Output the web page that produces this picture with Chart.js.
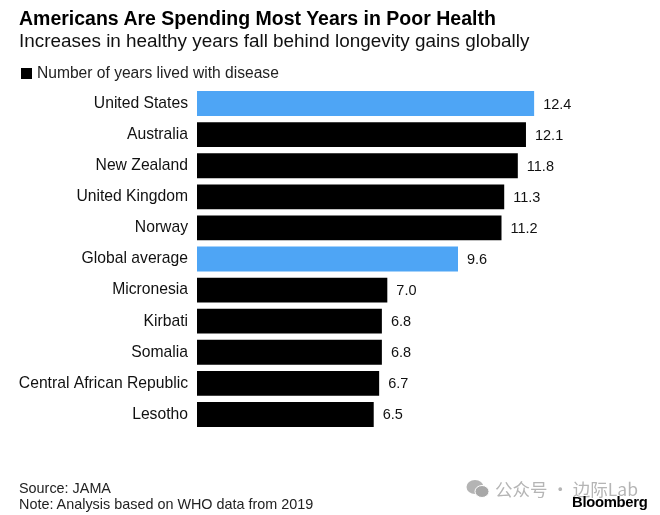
<!DOCTYPE html>
<html><head><meta charset="utf-8">
<script src="https://cdn.jsdelivr.net/npm/chart.js@4"></script>
<style>
html,body{margin:0;padding:0;background:#fff;width:660px;height:515px;overflow:hidden}
#wrap{position:relative;width:660px;height:515px;font-family:"Liberation Sans",Arial,sans-serif;color:#111}
canvas{position:absolute;left:0;top:0}
.t{position:absolute;white-space:nowrap}
</style></head><body>
<div id="wrap">
<canvas id="c" width="660" height="515"></canvas>
<div class="t" style="left:19px;top:7px;font-size:19.5px;font-weight:700;color:#000">Americans Are Spending Most Years in Poor Health</div>
<div class="t" style="left:19px;top:30px;font-size:18.9px;color:#111">Increases in healthy years fall behind longevity gains globally</div>
<div class="t" style="left:21px;top:68px;width:11px;height:11px;background:#000"></div>
<div class="t" style="left:37px;top:64px;font-size:15.6px;color:#222">Number of years lived with disease</div>
<div class="t" style="left:19px;top:480px;font-size:14.4px;color:#222">Source: JAMA</div>
<div class="t" style="left:19px;top:496px;font-size:14.4px;color:#222">Note: Analysis based on WHO data from 2019</div>
<svg class="t" style="left:466px;top:479px" width="24" height="20"><ellipse cx="9" cy="8" rx="8.5" ry="7" fill="#b4b4b4"/><ellipse cx="16" cy="12.5" rx="7" ry="6" fill="#a8a8a8" stroke="#fff"/></svg>
<div class="t" style="left:495px;top:476px;font-size:17.5px;color:#b5b5b5;font-family:'Noto Sans CJK SC','Liberation Sans',sans-serif">公众号 · 边际Lab</div>
<div class="t" style="left:572px;top:494px;font-size:14.8px;font-weight:700;color:#000;letter-spacing:-.3px">Bloomberg</div>
</div>
<script>
const categories=["United States","Australia","New Zealand","United Kingdom","Norway","Global average","Micronesia","Kirbati","Somalia","Central African Republic","Lesotho"];
const yearsWithDisease=[12.4,12.1,11.8,11.3,11.2,9.6,7.0,6.8,6.8,6.7,6.5];
const highlighted=["United States","Global average"];
const BLUE="#4ea5f5",BLACK="#000";
const valueLabels={id:"valueLabels",afterDatasetsDraw(chart){
  const {ctx}=chart,meta=chart.getDatasetMeta(0);
  ctx.save();ctx.font='14.5px "Liberation Sans",Arial,sans-serif';ctx.fillStyle="#111";
  ctx.textAlign="left";ctx.textBaseline="middle";
  meta.data.forEach((b,i)=>ctx.fillText(yearsWithDisease[i].toFixed(1),b.x+9,b.y+1));
  ctx.restore();
}};
new Chart(document.getElementById("c"),{
  type:"bar",
  data:{labels:categories,datasets:[{data:yearsWithDisease,
    backgroundColor:categories.map(c=>highlighted.includes(c)?BLUE:BLACK),
    barPercentage:.8,categoryPercentage:1,borderWidth:0}]},
  options:{indexAxis:"y",responsive:false,animation:false,
    layout:{padding:{top:88,bottom:85,left:0,right:28}},
    plugins:{legend:{display:false},title:{display:false},tooltip:{enabled:false}},
    scales:{
      x:{min:0,max:16,display:false},
      y:{afterFit(s){s.width=197},border:{display:false},grid:{display:false},
         ticks:{padding:1,color:"#111",font:{size:15.7,family:'"Liberation Sans",Arial,sans-serif'}}}
    }},
  plugins:[valueLabels]});
</script>
</body></html>
